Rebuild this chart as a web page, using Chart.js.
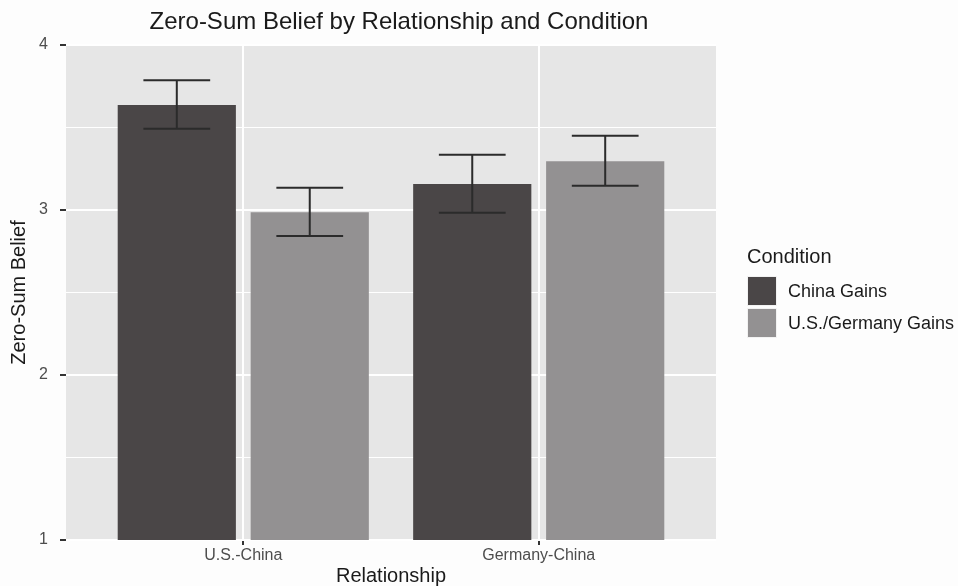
<!DOCTYPE html>
<html>
<head>
<meta charset="utf-8">
<script src="https://cdn.jsdelivr.net/npm/chart.js@4/dist/chart.umd.min.js"></script>
<style>
  html, body { margin: 0; padding: 0; background: #fdfdfd; }
  #wrap { width: 958px; height: 586px; position: relative; }
</style>
</head>
<body>
<div id="wrap"><canvas id="chart" width="958" height="586"></canvas></div>
<script>
// Relationship categories (x positions 1, 2)
const relationships = ['U.S.-China', 'Germany-China'];
const conditions = ['China Gains', 'U.S./Germany Gains'];

// Mean zero-sum belief per condition
const chinaGains = [3.637, 3.158];
const usGermanyGains = [2.986, 3.295];

// Error bar bounds
const chinaGainsUpper = [3.787, 3.335];
const chinaGainsLower = [3.493, 2.984];
const usGermanyGainsUpper = [3.135, 3.450];
const usGermanyGainsLower = [2.842, 3.147];

const yTicks = [1, 2, 3, 4];

const TITLE = 'Zero-Sum Belief by Relationship and Condition';
const FONT = "'Liberation Sans', Arial, Helvetica, sans-serif";
const DARK = '#4a4647';
const LIGHT = '#939192';
const PANEL = '#e6e6e6';
const CAP_WIDTH = 0.226; // error bar cap width in category units

const toPoints = vals => vals.map((v, i) => ({ x: i + 1, y: v }));

const panelBackground = {
  id: 'panelBackground',
  beforeDraw(chart) {
    const { ctx, chartArea: a } = chart;
    ctx.save();
    ctx.fillStyle = '#fdfdfd';
    ctx.fillRect(0, 0, chart.width, chart.height);
    ctx.fillStyle = PANEL;
    ctx.fillRect(a.left, a.top, a.right - a.left, a.bottom - a.top);
    ctx.restore();
  }
};

const errorBars = {
  id: 'errorBars',
  afterDatasetsDraw(chart) {
    const { ctx, scales: { x, y } } = chart;
    const half = (x.getPixelForValue(1 + CAP_WIDTH / 2) - x.getPixelForValue(1));
    ctx.save();
    ctx.strokeStyle = '#2b2b2b';
    ctx.lineWidth = 2;
    chart.data.datasets.forEach((ds, di) => {
      const meta = chart.getDatasetMeta(di);
      meta.data.forEach((bar, i) => {
        const cx = bar.x;
        const yTop = y.getPixelForValue(ds.upper[i]);
        const yBot = y.getPixelForValue(ds.lower[i]);
        ctx.beginPath();
        ctx.moveTo(cx - half, yTop); ctx.lineTo(cx + half, yTop);
        ctx.moveTo(cx, yTop); ctx.lineTo(cx, yBot);
        ctx.moveTo(cx - half, yBot); ctx.lineTo(cx + half, yBot);
        ctx.stroke();
      });
    });
    ctx.restore();
  }
};

// Plot title and the condition legend on the right
const annotations = {
  id: 'annotations',
  afterDraw(chart) {
    const { ctx } = chart;
    ctx.save();
    ctx.fillStyle = '#1a1a1a';
    ctx.textBaseline = 'middle';
    ctx.font = '24px ' + FONT;
    ctx.textAlign = 'center';
    ctx.fillText(TITLE, 399, 22);

    const x0 = 747, key = 30, top = 276, gap = 2;
    ctx.font = '20px ' + FONT;
    ctx.textAlign = 'left';
    ctx.fillText('Condition', x0, 257);
    chart.data.datasets.forEach((ds, i) => {
      const ky = top + i * (key + gap);
      ctx.fillStyle = '#f2f2f2';
      ctx.fillRect(x0, ky, key, key);
      ctx.fillStyle = ds.backgroundColor;
      ctx.fillRect(x0 + 1, ky + 1, key - 2, key - 2);
      ctx.fillStyle = '#1a1a1a';
      ctx.font = '18px ' + FONT;
      ctx.fillText(ds.label, x0 + 41, ky + key / 2 + 1);
    });
    ctx.restore();
  }
};

new Chart(document.getElementById('chart'), {
  type: 'bar',
  data: {
    datasets: [
      { label: conditions[0], data: toPoints(chinaGains), upper: chinaGainsUpper, lower: chinaGainsLower,
        backgroundColor: DARK },
      { label: conditions[1], data: toPoints(usGermanyGains), upper: usGermanyGainsUpper, lower: usGermanyGainsLower,
        backgroundColor: LIGHT }
    ]
  },
  options: {
    responsive: false,
    animation: false,
    categoryPercentage: 0.9,
    barPercentage: 0.8 / 0.9,
    layout: { padding: { left: 0, right: 242, top: 45, bottom: 0 } },
    plugins: {
      legend: { display: false },
      tooltip: { enabled: false },
      title: { display: false }
    },
    scales: {
      x: {
        type: 'linear',
        min: 0.4,
        max: 2.6,
        offset: false,
        afterBuildTicks: s => { s.ticks = relationships.map((_, i) => ({ value: i + 1 })); },
        afterFit: s => { s.height = 46; },
        ticks: {
          callback: v => relationships[v - 1] ?? '',
          color: '#4d4d4d',
          font: { family: FONT, size: 16 },
          padding: 1,
          maxRotation: 0,
          autoSkip: false
        },
        grid: { offset: false, color: '#ffffff', lineWidth: 2, tickColor: '#333333', tickLength: 5 },
        border: { display: false },
        title: {
          display: true,
          text: 'Relationship',
          color: '#1a1a1a',
          font: { family: FONT, size: 20, lineHeight: 1 },
          padding: { top: 0, bottom: 0 }
        }
      },
      y: {
        min: 1,
        max: 4,
        afterBuildTicks: s => {
          const t = [];
          yTicks.forEach((v, i) => { t.push({ value: v }); if (i < yTicks.length - 1) t.push({ value: v + 0.5 }); });
          s.ticks = t;
        },
        afterFit: s => { s.width = 66; },
        ticks: {
          callback: v => Number.isInteger(v) ? String(v) : '',
          color: '#4d4d4d',
          font: { family: FONT, size: 16 },
          padding: 12
        },
        grid: {
          color: '#ffffff',
          lineWidth: c => Number.isInteger(c.tick.value) ? 2 : 1,
          tickColor: c => Number.isInteger(c.tick.value) ? '#333333' : 'rgba(0,0,0,0)',
          tickLength: 6
        },
        border: { display: false },
        title: {
          display: true,
          text: 'Zero-Sum Belief',
          color: '#1a1a1a',
          font: { family: FONT, size: 20 },
          padding: { top: 7.5, bottom: 0 }
        }
      }
    }
  },
  plugins: [panelBackground, errorBars, annotations]
});
</script>
</body>
</html>
